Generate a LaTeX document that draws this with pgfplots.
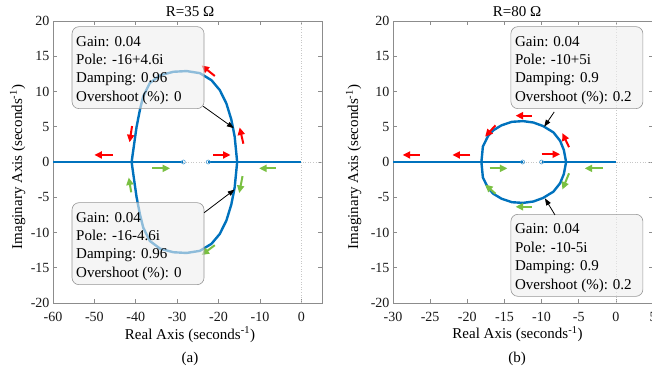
\documentclass[border=0pt]{standalone}
\usepackage{fontspec}
\setmainfont{Liberation Serif}
\usepackage{pgfplots}
\pgfplotsset{compat=1.18}
\usetikzlibrary{arrows.meta}
\definecolor{mblue}{RGB}{0,114,189}
\definecolor{mred}{RGB}{255,0,0}
\definecolor{mgreen}{RGB}{122,192,66}
\definecolor{axgray}{RGB}{140,140,140}
\definecolor{tipfill}{RGB}{238,238,238}
\definecolor{tipedge}{RGB}{150,150,150}
\newcommand\labfont{\fontsize{15}{18}\selectfont}
\newcommand\tipfont{\fontsize{15}{18}\selectfont}
\tikzset{tiparr/.style={black, line width=0.8pt, -{Triangle[length=7pt,width=5pt]}}}
\newcommand\datatip[6]{%
  \draw[tipedge, line width=0.6pt, fill=tipfill, fill opacity=0.6, rounded corners=7pt]
    (axis cs:#1,#2) rectangle ++(132pt,-82pt);
  \path (axis cs:#1,#2) ++(4pt,-19.5pt) node[anchor=base west, inner sep=0pt, font=\tipfont, text=black] {#3}
    ++(0pt,-18.4pt) node[anchor=base west, inner sep=0pt, font=\tipfont, text=black] {#4}
    ++(0pt,-18.4pt) node[anchor=base west, inner sep=0pt, font=\tipfont, text=black] {#5}
    ++(0pt,-18.4pt) node[anchor=base west, inner sep=0pt, font=\tipfont, text=black] {#6};
}
\pgfplotsset{
  rl/.style={
    scale only axis, height=282pt,
    ymin=-20, ymax=20,
    ytick={-20,-15,-10,-5,0,5,10,15,20},
    yticklabels={\mbox{-20},\mbox{-15},\mbox{-10},\mbox{-5},\mbox{0},\mbox{5},\mbox{10},\mbox{15},\mbox{20}},
    tick align=inside, major tick length=4pt,
    axis line style={axgray, line width=0.6pt},
    tick style={axgray, line width=0.6pt},
    ticklabel style={font=\fontsize{14}{16}\selectfont, text=black!90},
    xticklabel style={yshift=-6pt},
    clip=false,
  },
  locus/.style={mblue, line width=2.4pt, line join=round},
  grid0/.style={black!22, dotted, line width=0.6pt},
  zmark/.style={only marks, mark=o, mark size=2pt, mblue!70, mark options={fill=white, line width=0.6pt}},
  redarr/.style={mred, line width=2pt, -{Triangle[length=7.5pt,width=7pt]}, quiver={u=\thisrow{u}, v=\thisrow{v}}},
  grnarr/.style={mgreen, line width=2pt, -{Triangle[length=7.5pt,width=7pt]}, quiver={u=\thisrow{u}, v=\thisrow{v}}},
}
\begin{document}
\begin{tikzpicture}
% ---------------- (a) R = 35 ----------------
\begin{axis}[rl, at={(53pt,-303pt)}, anchor=south west, width=269pt,
  xmin=-60, xmax=5, xtick={-60,-50,-40,-30,-20,-10,0},
  xticklabels={\mbox{-60},\mbox{-50},\mbox{-40},\mbox{-30},\mbox{-20},\mbox{-10},\mbox{0}}]
\addplot[grid0] coordinates {(-60,0) (5,0)};
\addplot[grid0] coordinates {(0,-20) (0,20)};
\addplot[locus] coordinates {(-60,0) (-28.5,0)};
\addplot[locus] coordinates {(-22.5,0) (0,0)};
\addplot[locus] coordinates {
 (-41.0,0) (-40.6,1.7) (-39.8,5.0) (-39.0,7.4) (-38.2,9.3) (-36.6,11.2) (-34.1,12.3)
 (-30.9,12.8) (-27.7,12.9) (-24.5,12.6) (-21.7,11.6) (-19.7,10.2) (-18.1,8.3)
 (-16.9,6.0) (-16.1,3.6) (-15.5,0)};
\addplot[locus] coordinates {
 (-41.0,0) (-40.6,-1.7) (-39.8,-5.0) (-39.0,-7.4) (-38.2,-9.3) (-36.6,-11.2) (-34.1,-12.3)
 (-30.9,-12.8) (-27.7,-12.9) (-24.5,-12.6) (-21.7,-11.6) (-19.7,-10.2) (-18.1,-8.3)
 (-16.9,-6.0) (-16.1,-3.6) (-15.5,0)};
\addplot[zmark] coordinates {(-28.5,0) (-22.5,0)};
\addplot[redarr] table[row sep=\\] {
x y u v\\
-45.5 1.0 -4.5 0\\
-40.9 5.1 -0.6 -2.3\\
-21.3 1.0 4.2 0\\
-14.0 2.6 -0.9 2.3\\
-20.9 12.2 -3.2 1.5\\
};
\addplot[grnarr] table[row sep=\\] {
x y u v\\
-36.0 -0.9 4.3 0\\
-6.2 -0.9 -4.0 0\\
-41.1 -4.3 -0.6 2.1\\
-14.2 -2.0 -0.8 -2.4\\
-20.9 -11.8 -3.2 -1.4\\
};
\datatip{-55.4}{19.2}{Gain: 0.04}{Pole: -16+4.6i}{Damping: 0.96}{Overshoot (\%): 0}
\datatip{-55.4}{-5.77}{Gain: 0.04}{Pole: -16-4.6i}{Damping: 0.96}{Overshoot (\%): 0}
\draw[tiparr] (axis cs:-23.7,7.9) -- (axis cs:-16.3,4.8);
\draw[tiparr] (axis cs:-23.5,-7.2) -- (axis cs:-16.1,-3.9);
\end{axis}
% ---------------- (b) R = 80 ----------------
\begin{axis}[rl, at={(393pt,-303pt)}, anchor=south west, width=260pt,
  xmin=-30, xmax=5, xtick={-30,-25,-20,-15,-10,-5,0,5},
  xticklabels={\mbox{-30},\mbox{-25},\mbox{-20},\mbox{-15},\mbox{-10},\mbox{-5},\mbox{0},\mbox{5}}]
\addplot[grid0] coordinates {(-30,0) (5,0)};
\addplot[grid0] coordinates {(0,-20) (0,20)};
\addplot[locus] coordinates {(-30,0) (-12.55,0)};
\addplot[locus] coordinates {(-10,0) (0,0)};
\addplot[locus] coordinates {
 (-18.1,0) (-17.9,2.2) (-17.2,3.7) (-16.5,4.5) (-15.4,5.2) (-14.0,5.7) (-12.5,5.8)
 (-11.1,5.6) (-9.8,5.1) (-8.4,4.2) (-7.5,3.0) (-7.0,1.7) (-6.7,0)};
\addplot[locus] coordinates {
 (-18.1,0) (-17.9,-2.2) (-17.2,-3.7) (-16.5,-4.5) (-15.4,-5.2) (-14.0,-5.7) (-12.5,-5.8)
 (-11.1,-5.6) (-9.8,-5.1) (-8.4,-4.2) (-7.5,-3.0) (-7.0,-1.7) (-6.7,0)};
\addplot[zmark] coordinates {(-12.55,0) (-10,0)};
\addplot[redarr] table[row sep=\\] {
x y u v\\
-26.4 1.0 -2.3 0\\
-19.6 1.0 -2.4 0\\
-11.3 6.57 -2.2 0\\
-16.2 5.2 -1.4 -1.6\\
-10.0 1.1 2.5 0\\
-6.3 2.1 -0.9 2.0\\
};
\addplot[grnarr] table[row sep=\\] {
x y u v\\
-17.0 -0.9 2.4 0\\
-1.7 -0.9 -2.5 0\\
-6.3 -1.6 -0.9 -2.3\\
-16.2 -4.5 -1.4 1.3\\
-11.3 -6.35 -2.2 0\\
};
\datatip{-14.13}{19.2}{Gain: 0.04}{Pole: -10+5i}{Damping: 0.9}{Overshoot (\%): 0.2}
\datatip{-14.13}{-7.42}{Gain: 0.04}{Pole: -10-5i}{Damping: 0.9}{Overshoot (\%): 0.2}
\draw[tiparr] (axis cs:-8.3,7.1) -- (axis cs:-9.65,5.0);
\draw[tiparr] (axis cs:-8.2,-7.5) -- (axis cs:-9.55,-5.15);
\end{axis}
% ---------------- labels ----------------
\node[anchor=base, font=\labfont] at (190pt,-16.7pt) {R=35 Ω};
\node[anchor=base, font=\labfont] at (517pt,-16.7pt) {R=80 Ω};
\node[anchor=base, font=\labfont] at (190pt,-339pt) {Real Axis (seconds\textsuperscript{-1})};
\node[anchor=base, font=\labfont] at (517.5pt,-338.5pt) {Real Axis (seconds\textsuperscript{-1})};
\node[anchor=base, font=\labfont] at (190pt,-362pt) {(a)};
\node[anchor=base, font=\labfont] at (517pt,-362pt) {(b)};
\node[anchor=base, rotate=90, font=\labfont] at (22pt,-167pt) {Imaginary Axis (seconds\textsuperscript{-1})};
\node[anchor=base, rotate=90, font=\labfont] at (358pt,-167pt) {Imaginary Axis (seconds\textsuperscript{-1})};
\pgfresetboundingbox
\path[use as bounding box] (0pt,-373pt) rectangle (652pt,0pt);
\end{tikzpicture}
\end{document}
